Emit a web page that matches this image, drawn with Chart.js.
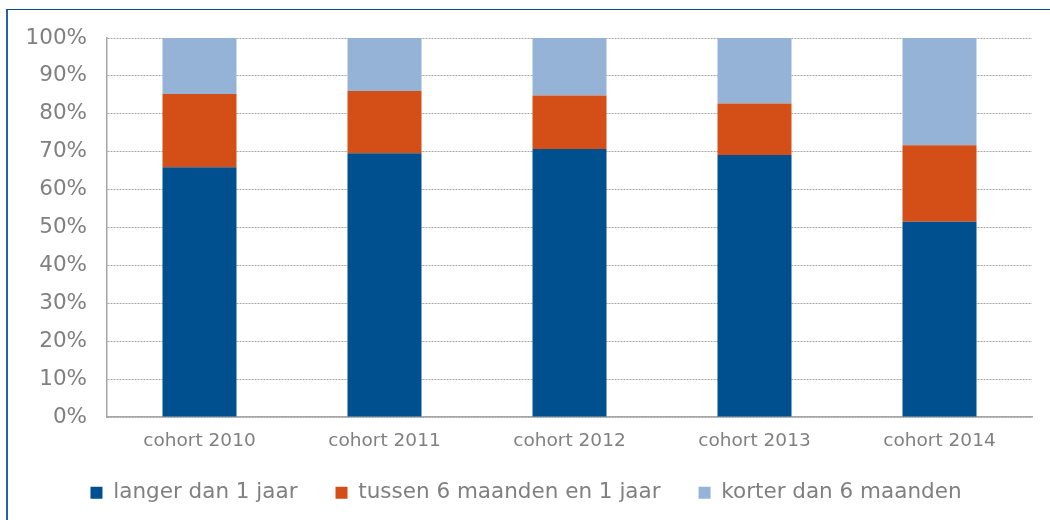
<!DOCTYPE html>
<html>
<head>
<meta charset="utf-8">
<script src="https://cdn.jsdelivr.net/npm/chart.js@4/dist/chart.umd.min.js"></script>
<style>
    html, body {margin: 0; padding: 0; background: #ffffff;}
    #wrap {position: relative; width: 1050px; height: 520px; overflow: hidden;}
    #frame {
        position: absolute; left: 6px; top: 9px; right: -2px; bottom: -2px;
        border-top: 1.5px solid #0d4f8c;
        border-left: 2px solid #2462ae;
        pointer-events: none;
    }
</style>
</head>
<body>
<div id="wrap">
    <canvas id="chart" width="1050" height="520"></canvas>
    <div id="frame"></div>
</div>
<script>
// categories and series (percentages)
const cohorts = ["cohort 2010", "cohort 2011", "cohort 2012", "cohort 2013", "cohort 2014"];
const langerDan1Jaar = [65.9, 69.6, 70.7, 69.1, 51.5];
const tussen6En12 = [19.3, 16.4, 14.1, 13.6, 20.2];
const korterDan6 = [14.8, 14.0, 15.2, 17.3, 28.3];
const yTickValues = [0, 10, 20, 30, 40, 50, 60, 70, 80, 90, 100];

const textGray = "#808080";
const fontFamily = "'DejaVu Sans', Verdana, sans-serif";
const legendLift = 9;

const config = {
    type: "bar",
    data: {
        labels: cohorts,
        datasets: [
            {
                label: "langer dan 1 jaar",
                data: langerDan1Jaar,
                backgroundColor: "#004f8e",
            },
            {
                label: "tussen 6 maanden en 1 jaar",
                data: tussen6En12,
                backgroundColor: "#d44f18",
            },
            {
                label: "korter dan 6 maanden",
                data: korterDan6,
                backgroundColor: "#95b3d7",
            },
        ],
    },
    options: {
        responsive: false,
        devicePixelRatio: 1,
        animation: false,
        datasets: {
            bar: {barPercentage: 0.4, categoryPercentage: 1, borderWidth: 0},
        },
        layout: {padding: {left: 20, right: 18, top: 38, bottom: 0}},
        scales: {
            x: {
                stacked: true,
                grid: {display: false, drawTicks: false},
                border: {display: true, color: "#a6a6a6", width: 1.5},
                ticks: {
                    color: textGray,
                    padding: 13,
                    font: {family: fontFamily, size: 18.5},
                },
                afterFit: (scale) => {
                    scale.height = 36;
                },
            },
            y: {
                stacked: true,
                min: 0,
                max: 100,
                afterBuildTicks: (scale) => {
                    scale.ticks = yTickValues.map((v) => ({value: v}));
                },
                grid: {
                    color: "#a8a8a8",
                    lineWidth: 1,
                    drawTicks: false,
                },
                // in v4 border.dash styles the grid lines
                border: {display: true, color: "#a6a6a6", width: 1.5, dash: [2, 1]},
                ticks: {
                    color: textGray,
                    padding: 20,
                    font: {family: fontFamily, size: 21.5},
                    callback: (v) => v + "%",
                },
                afterFit: (scale) => {
                    scale.width = 87;
                },
            },
        },
        plugins: {
            legend: {
                position: "bottom",
                maxHeight: 67,
                labels: {
                    color: textGray,
                    boxWidth: 12,
                    boxHeight: 12,
                    padding: 38,
                    font: {family: fontFamily, size: 21.5},
                },
            },
            tooltip: {enabled: false},
        },
    },
    plugins: [
        {
            // legend padding also sits above the row, pull it up a bit
            id: "liftLegend",
            afterLayout(chart) {
                chart.legend.top -= legendLift;
                chart.legend.bottom -= legendLift;
            },
        },
    ],
};

const chart = new Chart(document.getElementById("chart"), config);
</script>
</body>
</html>
